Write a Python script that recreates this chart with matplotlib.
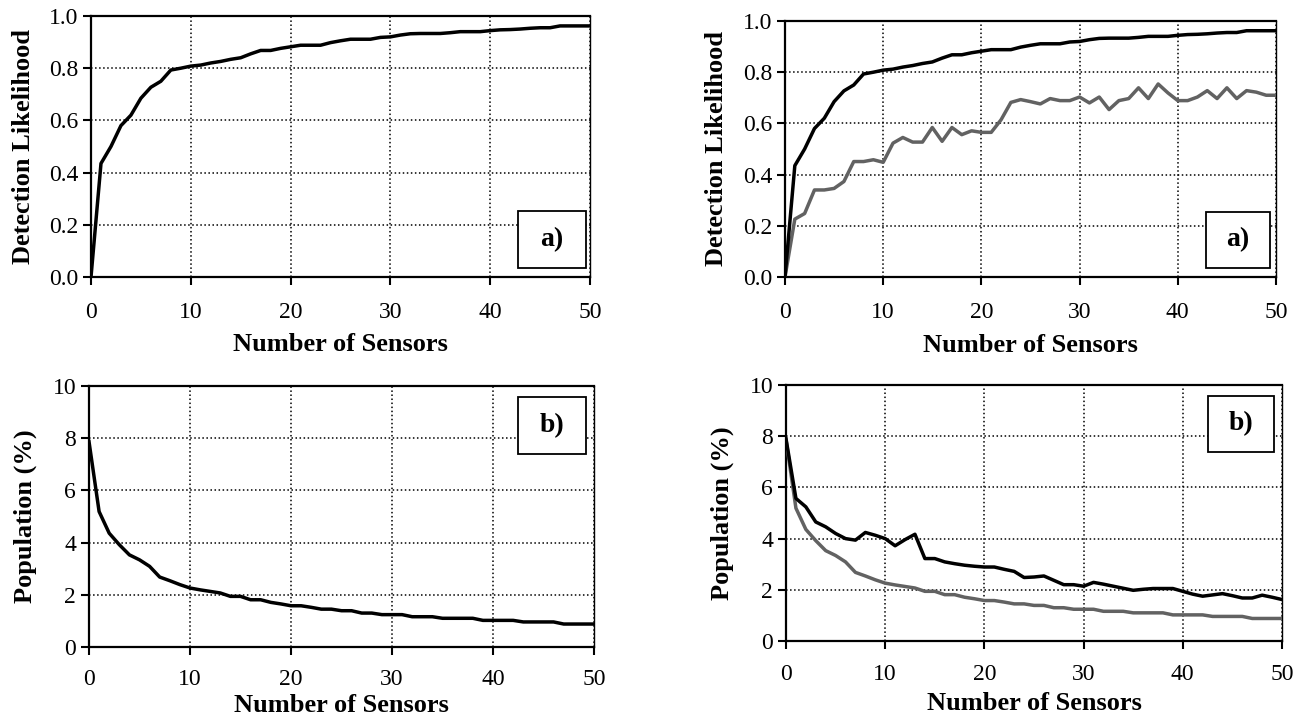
import matplotlib
matplotlib.use("Agg")
import matplotlib.pyplot as plt
from matplotlib.patches import Rectangle

plt.rcParams['font.family'] = ['Liberation Serif', 'DejaVu Serif']

# number of sensors on the x axis
sensors = list(range(51))

# detection likelihood, black curve (both top panels)
detect_black = [0.0, 0.435, 0.50, 0.58, 0.62, 0.685, 0.727, 0.75, 0.793, 0.80,
                0.808, 0.812, 0.82, 0.826, 0.834, 0.84, 0.855, 0.868, 0.868, 0.876,
                0.882, 0.888, 0.888, 0.888, 0.898, 0.905, 0.911, 0.911, 0.911, 0.918,
                0.92, 0.927, 0.932, 0.933, 0.933, 0.933, 0.936, 0.94, 0.94, 0.94,
                0.944, 0.947, 0.948, 0.95, 0.953, 0.955, 0.955, 0.962, 0.962, 0.962,
                0.962]

# detection likelihood, grey curve (top right)
detect_grey = [0.0, 0.226, 0.248, 0.34, 0.34, 0.346, 0.373, 0.451, 0.451, 0.458,
               0.448, 0.523, 0.545, 0.527, 0.527, 0.584, 0.53, 0.584, 0.556, 0.571,
               0.565, 0.565, 0.614, 0.682, 0.693, 0.685, 0.676, 0.697, 0.689, 0.689,
               0.703, 0.68, 0.703, 0.654, 0.689, 0.697, 0.739, 0.697, 0.754, 0.719,
               0.689, 0.689, 0.703, 0.728, 0.697, 0.739, 0.697, 0.728, 0.722, 0.71,
               0.71]

# population (%), smooth curve (black bottom left, grey bottom right)
pop_smooth = [7.87, 5.19, 4.36, 3.92, 3.53, 3.34, 3.09, 2.68, 2.54, 2.39,
              2.26, 2.19, 2.13, 2.07, 1.94, 1.94, 1.81, 1.81, 1.71, 1.65,
              1.58, 1.58, 1.52, 1.45, 1.45, 1.39, 1.39, 1.30, 1.30, 1.24,
              1.24, 1.24, 1.16, 1.16, 1.16, 1.10, 1.10, 1.10, 1.10, 1.02,
              1.02, 1.02, 1.02, 0.96, 0.96, 0.96, 0.96, 0.88, 0.88, 0.88,
              0.88]

# population (%), black curve bottom right
pop_black = [7.9, 5.57, 5.24, 4.65, 4.46, 4.2, 4.0, 3.94, 4.24, 4.13,
             4.0, 3.72, 3.96, 4.17, 3.22, 3.22, 3.09, 3.02, 2.96, 2.92,
             2.89, 2.89, 2.80, 2.72, 2.48, 2.50, 2.54, 2.37, 2.20, 2.20,
             2.14, 2.29, 2.22, 2.14, 2.06, 1.98, 2.02, 2.05, 2.05, 2.05,
             1.94, 1.83, 1.75, 1.80, 1.85, 1.77, 1.68, 1.68, 1.79, 1.71,
             1.62]

GREY = '#626262'
W, H = 1304, 727


def px_axes(fig, left, top, right, bottom):
    """Add axes from pixel box"""
    return fig.add_axes([left / W, 1 - bottom / H, (right - left) / W, (bottom - top) / H])


def style_axes(ax, ylim, yticks, ylabel, ylab_x, xlab_y, tag, box, xpad=12.5):
    ax.set_xlim(0, 50)
    ax.set_ylim(*ylim)
    ax.set_xticks([0, 10, 20, 30, 40, 50])
    ax.set_yticks(yticks)
    ax.grid(True, color='black', linestyle=':', linewidth=1.1)
    ax.set_axisbelow(True)
    for side in ['left', 'bottom', 'top']:
        ax.spines[side].set_linewidth(1.6)
    ax.spines['right'].set_linewidth(1.0)
    ax.tick_params(direction='out', length=5.8, width=1.5, labelsize=17)
    ax.tick_params(axis='x', pad=xpad)
    ax.tick_params(axis='y', pad=3.5)
    ax.set_ylabel(ylabel, fontsize=19, fontweight='bold', va='center')
    ax.yaxis.set_label_coords(ylab_x, 0.5)
    ax.set_xlabel('Number of Sensors', fontsize=19, fontweight='bold', va='center')
    ax.xaxis.set_label_coords(0.5, xlab_y)
    x0, y0, x1, y1 = box
    ax.add_patch(Rectangle((x0, y0), x1 - x0, y1 - y0, transform=ax.transAxes,
                           facecolor='white', edgecolor='black', linewidth=1.3, zorder=5))
    ax.text((x0 + x1) / 2, (y0 + y1) / 2, tag, transform=ax.transAxes, ha='center',
            va='center', fontsize=20, fontweight='bold', zorder=6)


fig = plt.figure(figsize=(W / 100, H / 100), dpi=100)

ax1 = px_axes(fig, 91, 16, 590, 277)
ax1.plot(sensors, detect_black, color='black', linewidth=2.5, zorder=3)
style_axes(ax1, (0, 1.0), [0, 0.2, 0.4, 0.6, 0.8, 1.0], 'Detection Likelihood',
           -0.135, -0.257, 'a)', (0.856, 0.034, 0.992, 0.253))
ax1.yaxis.set_major_formatter(matplotlib.ticker.FormatStrFormatter('%.1f'))

ax2 = px_axes(fig, 785, 21, 1276, 277)
ax2.plot(sensors, detect_grey, color=GREY, linewidth=2.5, zorder=3)
ax2.plot(sensors, detect_black, color='black', linewidth=2.5, zorder=4)
style_axes(ax2, (0, 1.0), [0, 0.2, 0.4, 0.6, 0.8, 1.0], 'Detection Likelihood',
           -0.1385, -0.267, 'a)', (0.857, 0.035, 0.988, 0.255))
ax2.yaxis.set_major_formatter(matplotlib.ticker.FormatStrFormatter('%.1f'))

ax3 = px_axes(fig, 89, 386, 594, 647)
ax3.plot(sensors, pop_smooth, color='black', linewidth=2.5, zorder=3)
style_axes(ax3, (0, 10), [0, 2, 4, 6, 8, 10], 'Population (%)',
           -0.127, -0.226, 'b)', (0.85, 0.74, 0.984, 0.958), xpad=10)

ax4 = px_axes(fig, 786, 385, 1282, 641)
ax4.plot(sensors, pop_smooth, color=GREY, linewidth=2.5, zorder=3)
ax4.plot(sensors, pop_black, color='black', linewidth=2.5, zorder=4)
style_axes(ax4, (0, 10), [0, 2, 4, 6, 8, 10], 'Population (%)',
           -0.129, -0.246, 'b)', (0.851, 0.738, 0.984, 0.957), xpad=10.5)

fig.savefig('out.png', dpi=100)
